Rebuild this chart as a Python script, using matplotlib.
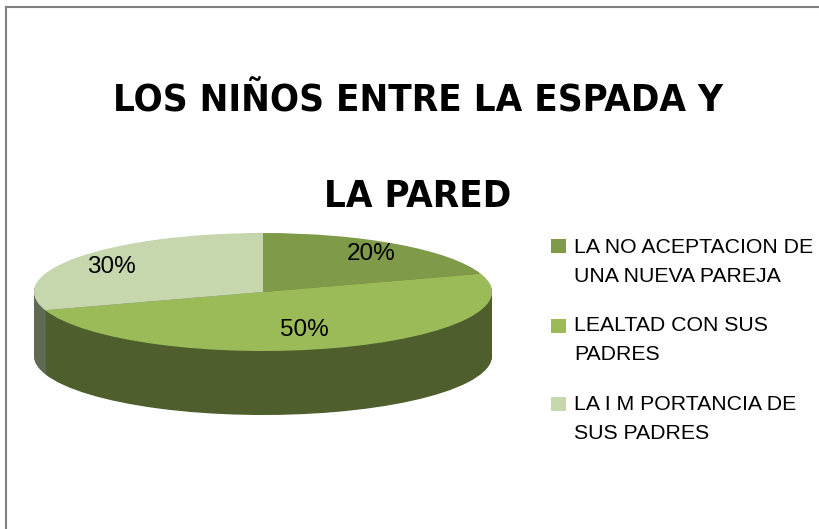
import numpy as np
import matplotlib
matplotlib.use("Agg")
import matplotlib.pyplot as plt
from matplotlib.patches import Rectangle

# ---- data ----
categories = ["LA NO ACEPTACION DE\nUNA NUEVA PAREJA",
              "LEALTAD CON SUS\nPADRES",
              "LA I M PORTANCIA DE\nSUS PADRES"]
values = [20, 50, 30]
title_lines = ["LOS NIÑOS ENTRE LA ESPADA Y", "LA PARED"]

top_colors = ["#7F9A49", "#9BBB59", "#C6D6AD"]
side_colors = ["#5A6E33", "#4E5E2D", "#5F6A53"]

W, H = 819, 529
fig = plt.figure(figsize=(W / 100, H / 100), dpi=100)
fig.patch.set_facecolor("white")

# frame lines (top and left)
fig.add_artist(plt.Line2D([6 / W, 1], [1 - 7 / H, 1 - 7 / H], color="#808080", lw=1.5))
fig.add_artist(plt.Line2D([6 / W, 6 / W], [0, 1 - 7 / H], color="#808080", lw=1.5))

# pie axes: centre (263, 292) px, rx 229 px, ry 59 px
cx, cy, rx, ry = 263, 292, 229, 59
xl = (-1.1, 1.1)
yl = (-2.3, 1.3)
left = cx - (-xl[0]) * rx
bottom = (H - cy) - (-yl[0]) * ry
ax = fig.add_axes([left / W, bottom / H, (xl[1] - xl[0]) * rx / W, (yl[1] - yl[0]) * ry / H])

depth = 64 / ry
for d in np.linspace(depth, 0.0, 90)[:-1]:
    ax.pie(values, center=(0, -d), radius=1, startangle=90, counterclock=False,
           colors=side_colors, wedgeprops=dict(linewidth=0, antialiased=True))

wedges, texts, autotexts = ax.pie(values, center=(0, 0), radius=1, startangle=90,
                                  counterclock=False, colors=top_colors,
                                  autopct="%1.0f%%", pctdistance=0.78,
                                  wedgeprops=dict(linewidth=0, antialiased=True),
                                  textprops=dict(fontsize=17.5, family="Liberation Sans", color="black"))
label_pos = [(0.47, 0.64), (0.18, -0.64), (-0.66, 0.42)]
for t, p in zip(autotexts, label_pos):
    t.set_position(p)

ax.set_aspect("auto")
ax.set_xlim(*xl)
ax.set_ylim(*yl)
ax.axis("off")

# title
title_font = dict(family="DejaVu Sans", fontstretch="condensed", fontweight="bold",
                  fontsize=27.5, ha="center", va="center", color="black")
fig.text(418 / W, 1 - 101 / H, title_lines[0], **title_font)
fig.text(418 / W, 1 - 197 / H, title_lines[1], **title_font)

# legend (drawn manually: square aligned with first line of each label)
sq_y = [246, 326, 404]
lab_y = [262, 340, 419]
for c, lab, sy, ly in zip(top_colors, categories, sq_y, lab_y):
    fig.add_artist(Rectangle(((551) / W, 1 - (sy + 7) / H), 15 / W, 14 / H,
                             transform=fig.transFigure, facecolor=c, edgecolor="none"))
    fig.text(574 / W, 1 - ly / H, lab, family="Liberation Sans", fontsize=15.3,
             ha="left", va="center", linespacing=1.72, color="black")

fig.savefig("out.png", dpi=100, facecolor="white")
